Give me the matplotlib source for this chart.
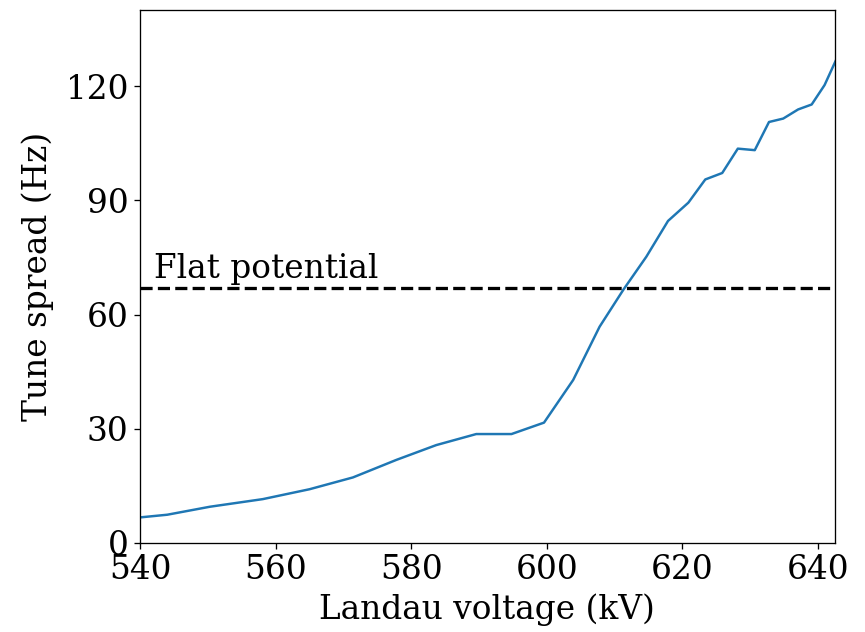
import numpy as np
import matplotlib.pyplot as plt

# valeurs
voltage = [540.0, 544.0, 550.3, 558.1, 565.0, 571.4, 577.8, 583.7, 589.6, 594.8,
           599.6, 603.9, 607.8, 611.3, 614.7, 617.9, 620.9, 623.4, 625.9, 628.2,
           630.7, 632.8, 634.9, 637.1, 639.1, 641.0, 642.8]
spread = [6.7, 7.4, 9.5, 11.5, 14.1, 17.2, 21.8, 25.7, 28.6, 28.6,
          31.6, 42.8, 56.8, 66.5, 75.2, 84.6, 89.4, 95.5, 97.2, 103.6,
          103.2, 110.6, 111.5, 113.9, 115.2, 120.3, 127.3]
flat_level = 66.9
yticks = [0, 30, 60, 90, 120]

s = 1.18  # facteur d'échelle
plt.rcParams['font.family'] = 'DejaVu Serif'
plt.rcParams['font.size'] = 20 * s
plt.rcParams['axes.linewidth'] = 0.8 * s
for ax_ in ('xtick', 'ytick'):
    plt.rcParams[ax_ + '.major.size'] = 3.5 * s
    plt.rcParams[ax_ + '.major.width'] = 0.8 * s
    plt.rcParams[ax_ + '.major.pad'] = 3.5 * s

fig = plt.figure(figsize=(8.65, 6.32), dpi=100)
ax = fig.add_axes([0.162, 0.141, 0.803, 0.843])
ax.plot(voltage, spread, color='#1f77b4', lw=1.5 * s)
ax.axhline(flat_level, color='black', ls='--', lw=2 * s)
ax.text(542, flat_level + 2.7, 'Flat potential')

ax.set_xlim(540, 642.5)
ax.set_ylim(0, 140)
ax.set_yticks(yticks)
ax.set_xlabel('Landau voltage (kV)', labelpad=5)
ax.set_ylabel('Tune spread (Hz)', labelpad=9)

fig.savefig('out.png')
